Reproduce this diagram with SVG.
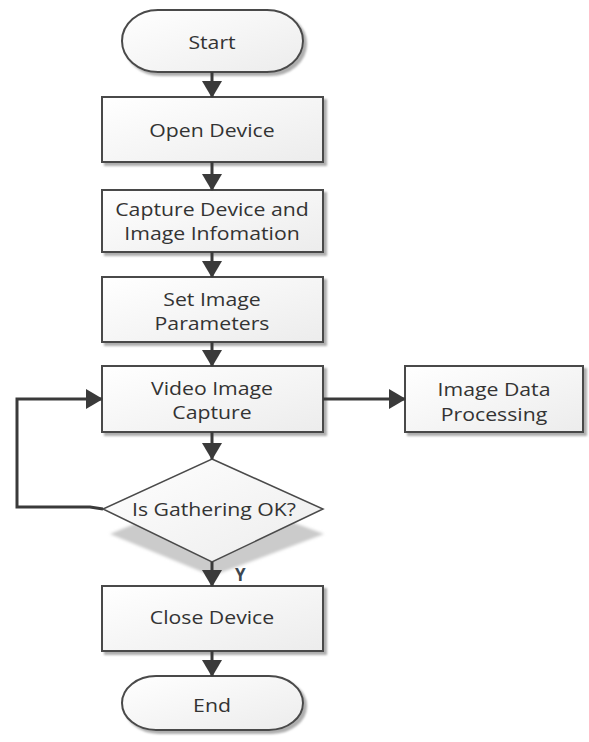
<svg xmlns="http://www.w3.org/2000/svg" width="589" height="742" viewBox="0 0 589 742">
  <defs>
    <linearGradient id="fillGrad" x1="0" y1="0" x2="1" y2="1">
      <stop offset="0" stop-color="#ffffff"/>
      <stop offset="1" stop-color="#ececec"/>
    </linearGradient>
    <filter id="dropShadow" x="-10%" y="-10%" width="125%" height="130%">
      <feDropShadow dx="3" dy="3" stdDeviation="1.2" flood-color="#9a9a9a" flood-opacity="0.8"/>
    </filter>
    <filter id="softBlur" x="-10%" y="-10%" width="120%" height="120%">
      <feGaussianBlur stdDeviation="1.5"/>
    </filter>
    <marker id="arrowHead" markerUnits="userSpaceOnUse" markerWidth="20" markerHeight="22" refX="16" refY="10" orient="auto">
      <path d="M0,0 L17,10 L0,20 z" fill="#3a3a3a"/>
    </marker>
  </defs>
  <style>
    .shape { fill: url(#fillGrad); stroke: #4a4a4a; stroke-width: 2; filter: url(#dropShadow); }
    .label { font-family: "Open Sans", "Noto Sans", "DejaVu Sans", sans-serif; font-size: 18px; fill: #333333; text-anchor: middle; dominant-baseline: central; }
    .flow { fill: none; stroke: #3a3a3a; stroke-width: 3; marker-end: url(#arrowHead); }
    .ylabel { font-family: "Open Sans", "Noto Sans", sans-serif; font-size: 17px; font-weight: bold; fill: #3c4650; }
  </style>

  <rect width="589" height="742" fill="#ffffff"/>

  <g id="start">
    <rect class="shape" x="122" y="10" width="181" height="62" rx="36" ry="31"/>
    <text class="label" transform="translate(212,42) scale(1.18,1)">Start</text>
  </g>

  <g id="open-device">
    <rect class="shape" x="102" y="97" width="221" height="65"/>
    <text class="label" transform="translate(212,130) scale(1.18,1)">Open Device</text>
  </g>

  <g id="capture-info">
    <rect class="shape" x="102" y="190" width="221" height="62"/>
    <text class="label" transform="translate(212,209) scale(1.18,1)">Capture Device and</text>
    <text class="label" transform="translate(212,233) scale(1.18,1)">Image Infomation</text>
  </g>

  <g id="set-params">
    <rect class="shape" x="102" y="277" width="221" height="65"/>
    <text class="label" transform="translate(212,299) scale(1.18,1)">Set Image</text>
    <text class="label" transform="translate(212,323) scale(1.18,1)">Parameters</text>
  </g>

  <g id="video-capture">
    <rect class="shape" x="102" y="366" width="221" height="66"/>
    <text class="label" transform="translate(212,388) scale(1.18,1)">Video Image</text>
    <text class="label" transform="translate(212,412) scale(1.18,1)">Capture</text>
  </g>

  <g id="data-processing">
    <rect class="shape" x="405" y="366" width="178" height="66"/>
    <text class="label" transform="translate(494,389) scale(1.18,1)">Image Data</text>
    <text class="label" transform="translate(494,414) scale(1.18,1)">Processing</text>
  </g>

  <g id="gathering-check">
    <polygon points="110,534 212,492 324,534 212,576" fill="#cbcbcb" filter="url(#softBlur)"/>
    <polygon points="212,459 323,509 212,562 103,509" fill="url(#fillGrad)" stroke="#4a4a4a" stroke-width="1.5"/>
    <text class="label" transform="translate(214,509) scale(1.18,1)">Is Gathering OK?</text>
  </g>

  <g id="close-device">
    <rect class="shape" x="102" y="586" width="221" height="65"/>
    <text class="label" transform="translate(212,617) scale(1.18,1)">Close Device</text>
  </g>

  <g id="end">
    <rect class="shape" x="122" y="676" width="181" height="54" rx="34" ry="27"/>
    <text class="label" transform="translate(212,705) scale(1.18,1)">End</text>
  </g>

  <!-- connectors drawn last so they sit above the shadows -->
  <g id="connectors">
    <line class="flow" x1="212" y1="72" x2="212" y2="97"/>
    <line class="flow" x1="212" y1="162" x2="212" y2="190"/>
    <line class="flow" x1="212" y1="252" x2="212" y2="277"/>
    <line class="flow" x1="212" y1="342" x2="212" y2="366"/>
    <line class="flow" x1="212" y1="432" x2="212" y2="459"/>
    <line class="flow" x1="323" y1="399" x2="405" y2="399"/>
    <line class="flow" x1="212" y1="562" x2="212" y2="586"/>
    <line class="flow" x1="212" y1="651" x2="212" y2="676"/>
    <polyline class="flow" points="103,509 90,507 17,507 17,399 102,399"/>
    <text class="ylabel" x="235" y="581">Y</text>
  </g>
</svg>
